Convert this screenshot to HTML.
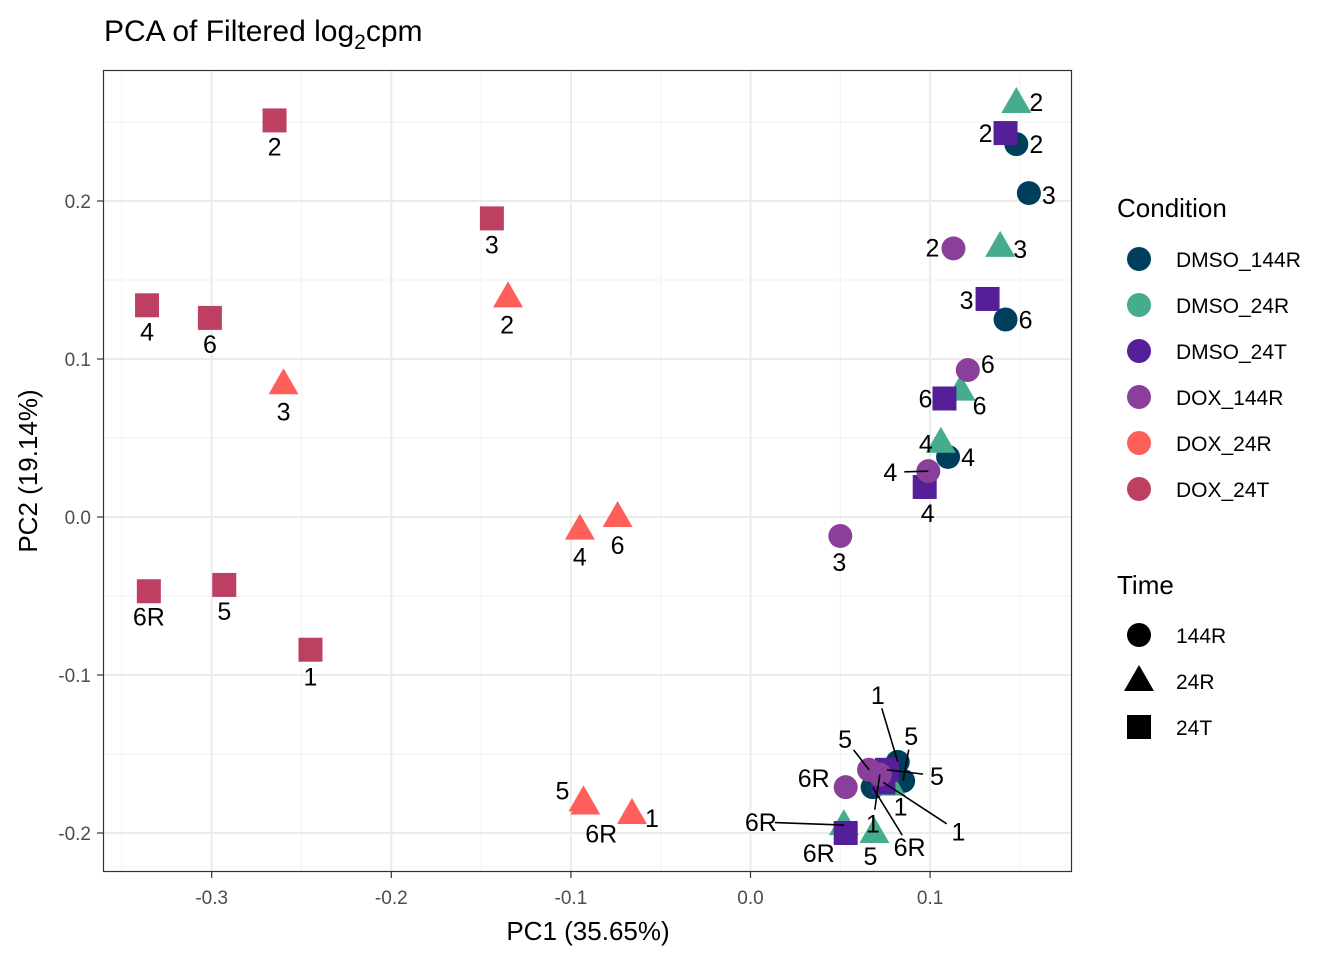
<!DOCTYPE html>
<html><head><meta charset="utf-8"><style>
body{margin:0;background:#fff;}
svg{display:block;font-family:"Liberation Sans",Arial,sans-serif;}
</style></head><body>
<svg id="chart" width="1344" height="960" viewBox="0 0 1344 960">
<text x="104" y="41" font-size="30" fill="#000">PCA of Filtered log<tspan font-size="21" dy="8">2</tspan><tspan dy="-8">cpm</tspan></text>
<g id="grid"></g><g id="marks"></g><g id="labels"></g>
<rect x="103.5" y="70.5" width="968" height="801" fill="none" stroke="#333" stroke-width="1.2"/>
<g id="axes"></g>
<text x="588" y="940" font-size="26" text-anchor="middle">PC1 (35.65%)</text>
<text x="37" y="471" font-size="26" text-anchor="middle" transform="rotate(-90 37 471)">PC2 (19.14%)</text>
<g id="legend"></g>
</svg>
<script>
const conditions=["DMSO_144R","DMSO_24R","DMSO_24T","DOX_144R","DOX_24R","DOX_24T"];
const colors=["#003F5C","#45AC8E","#551F9A","#8A3F9B","#FF5F5A","#BD4062"];
const times=["144R","24R","24T"];
const xTicks=[-0.3,-0.2,-0.1,0.0,0.1];
const xTickLabels=["-0.3","-0.2","-0.1","0.0","0.1"];
const yTicks=[-0.2,-0.1,0.0,0.1,0.2];
const yTickLabels=["-0.2","-0.1","0.0","0.1","0.2"];
const sampleCond=["DOX_24T","DOX_24T","DOX_24T","DOX_24T","DOX_24T","DOX_24T","DOX_24T",
"DOX_24R","DOX_24R","DOX_24R","DOX_24R","DOX_24R","DOX_24R","DOX_24R",
"DMSO_144R","DMSO_144R","DMSO_144R","DMSO_144R","DMSO_144R","DMSO_144R","DMSO_144R",
"DMSO_24R","DMSO_24R","DMSO_24R","DMSO_24R","DMSO_24R","DMSO_24R","DMSO_24R",
"DMSO_24T","DMSO_24T","DMSO_24T","DMSO_24T","DMSO_24T","DMSO_24T","DMSO_24T",
"DOX_144R","DOX_144R","DOX_144R","DOX_144R","DOX_144R","DOX_144R","DOX_144R"];
const sampleLabel=["2","3","4","6","6R","5","1",
"2","3","4","6","5","1","6R",
"2","3","6","4","1","5","6R",
"2","3","6","4","1","6R","5",
"2","3","6","4","5","1","6R",
"2","6","4","3","5","6R","1"];
const pc1=[-0.265,-0.144,-0.336,-0.301,-0.335,-0.293,-0.245,
-0.135,-0.260,-0.095,-0.074,-0.093,-0.066,-0.092,
0.148,0.155,0.142,0.110,0.082,0.085,0.068,
0.148,0.139,0.117,0.106,0.078,0.052,0.069,
0.142,0.132,0.108,0.097,0.076,0.074,0.053,
0.113,0.121,0.099,0.050,0.066,0.053,0.072];
const pc2=[0.251,0.189,0.134,0.126,-0.047,-0.043,-0.084,
0.139,0.084,-0.008,0.000,-0.180,-0.188,-0.182,
0.236,0.205,0.125,0.038,-0.155,-0.167,-0.171,
0.262,0.171,0.080,0.047,-0.170,-0.195,-0.200,
0.243,0.138,0.075,0.019,-0.160,-0.168,-0.200,
0.170,0.093,0.029,-0.012,-0.160,-0.171,-0.163];
// label offsets (px) — styling, not data
const labDx=[0,0,0,0,0,0,0, -1,0,0,0,-21,20,16, 20,20,20,20,-20,8,37, 20,20,19,-15,10,-83,-4, -20,-21,-19,3,50,75,-27, -21,20,-38,-1,-24,-32,-7];
const labDy=[26,26,26,26,25,26,27, 27,27,27,28,-11,4,29, 0,2,0,0,-67,-45,60, -1,2,15,1,21,-3,23, 0,1,0,26,6,49,20, -1,-6,1,26,-31,-9,49];
const X=v=>750.5+v*1796, Y=v=>517-v*1580;
const NS="http://www.w3.org/2000/svg";
function mk(tag,at,parent){const e=document.createElementNS(NS,tag);for(const k in at)e.setAttribute(k,at[k]);parent.appendChild(e);return e;}
const grid=document.getElementById('grid');
const bg=mk('rect',{x:103,y:70,width:969,height:802,fill:'#fff'},grid);


for(let i=0;i<xTicks.length;i++){
 const mx=X(xTicks[i]+0.05);
 if(mx<1072){const m=mk('line',{x1:mx,x2:mx,y1:70,y2:872,stroke:'#f2f2f2','stroke-width':1},grid);
 
 }
}
mk('line',{x1:X(-0.35),x2:X(-0.35),y1:70,y2:872,stroke:'#f2f2f2','stroke-width':1},grid);
for(let i=0;i<yTicks.length;i++){
 const my=Y(yTicks[i]+0.05);
 if(my>70){const m=mk('line',{x1:103,x2:1072,y1:my,y2:my,stroke:'#f2f2f2','stroke-width':1},grid);
 
 }
}
const axes=document.getElementById('axes');
xTicks.forEach((t,i)=>{
 const x=X(t);
 const g=mk('line',{x1:x,x2:x,y1:70,y2:872,stroke:'#ebebeb','stroke-width':2},grid);
 
 
 mk('line',{x1:x,x2:x,y1:872,y2:878,stroke:'#333','stroke-width':1.2},axes);
 const tx=mk('text',{x:x,y:904,'font-size':19,fill:'#4d4d4d','text-anchor':'middle'},axes);
 tx.textContent=xTickLabels[i];
 
 
});
yTicks.forEach((t,i)=>{
 const y=Y(t);
 const g=mk('line',{x1:103,x2:1072,y1:y,y2:y,stroke:'#ebebeb','stroke-width':2},grid);
 
 
 mk('line',{x1:97,x2:103,y1:y,y2:y,stroke:'#333','stroke-width':1.2},axes);
 const tx=mk('text',{x:91,y:y+7,'font-size':19,fill:'#4d4d4d','text-anchor':'end'},axes);
 tx.textContent=yTickLabels[i];
 
 
});
function shape(parent,t,cx,cy,col){
 if(t==="144R") return mk('circle',{cx:cx,cy:cy,r:12,fill:col},parent);
 if(t==="24R") return mk('polygon',{points:`${cx},${cy-16} ${cx+15},${cy+10} ${cx-15},${cy+10}`,fill:col},parent);
 return mk('rect',{x:cx-12,y:cy-12,width:24,height:24,fill:col},parent);
}
const marks=document.getElementById('marks'), labels=document.getElementById('labels');
for(let i=0;i<pc1.length;i++){
 const c=sampleCond[i], col=colors[conditions.indexOf(c)], t=c.split('_')[1];
 const cx=X(pc1[i]), cy=Y(pc2[i]);
 const s=shape(marks,t,cx,cy,col);
 
 
 const lx=cx+labDx[i], ly=cy+labDy[i];
 const d=Math.hypot(labDx[i],labDy[i]);
 if(d>38){
  const f=(d-14)/d;
  const ln=mk('line',{x1:cx,y1:cy,x2:cx+labDx[i]*f,y2:cy+labDy[i]*f,stroke:'#000','stroke-width':1.6},labels);
  
  
 }
 const tx=mk('text',{x:lx,y:ly+9,'font-size':25,fill:'#000','text-anchor':'middle'},labels);
 tx.textContent=sampleLabel[i];
 
 
}
const lg=document.getElementById('legend');
const t1=mk('text',{x:1117,y:217,'font-size':26},lg);t1.textContent='Condition';


conditions.forEach((c,i)=>{
 const y=259+i*46;
 const s=mk('circle',{cx:1139,cy:y,r:12,fill:colors[i]},lg);
 
 
 const tx=mk('text',{x:1176,y:y+8,'font-size':21},lg);tx.textContent=c;
 
 
});
const t2=mk('text',{x:1117,y:594,'font-size':26},lg);t2.textContent='Time';


times.forEach((t,i)=>{
 const y=635+i*46;
 const s=shape(lg,t,1139,y,'#000');
 
 
 const tx=mk('text',{x:1176,y:y+8,'font-size':21},lg);tx.textContent=t;
 
 
});
</script>
</body></html>
